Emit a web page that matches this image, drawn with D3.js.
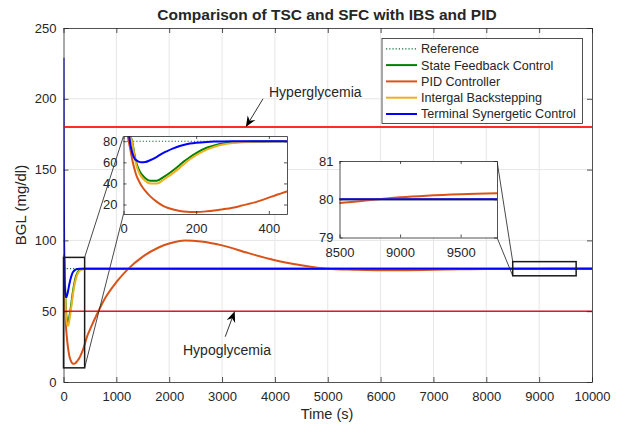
<!DOCTYPE html>
<html lang="en">
<head>
<meta charset="UTF-8">
<title>Comparison of TSC and SFC with IBS and PID</title>
<script src="https://cdn.jsdelivr.net/npm/d3@7"></script>
<style>
  body { margin: 0; background: #fff; font-family: "Liberation Sans", Arial, sans-serif; }
  svg text { fill: #262626; }
  .grid line { stroke: #e6e6e6; stroke-width: 1; }
</style>
</head>
<body>
<svg id="chart" width="624" height="428"></svg>
<script>
// ---- data ----
const time = [0, 4, 8, 12, 16, 20, 25, 30, 35, 40, 46, 50, 60, 73, 92, 110, 119, 137, 155, 165,
  183, 200, 229, 250, 274, 300, 320, 366, 412, 450, 500, 560, 660, 800, 1000, 1200, 1500, 1800, 2000, 2300,
  2600, 3000, 3500, 4000, 4500, 5000, 5500, 6000, 6500, 7000, 7500, 8000, 8500, 9000, 9500, 10000];

const tsc = [229, 170, 125, 98, 84, 75, 68, 64, 62, 61, 60.2, 60, 60.3, 62, 65.3, 69, 70.5, 73.2, 75.5, 76.5,
  77.8, 78.6, 79.4, 79.7, 79.85, 79.95, 80, 80, 80, 80, 80, 80, 80, 80, 80, 80, 80, 80, 80, 80,
  80, 80, 80, 80, 80, 80, 80, 80, 80, 80, 80, 80, 80, 80, 80, 80];

const sfc = [90, 89.8, 89.3, 88.5, 87, 84.5, 78, 68, 60, 55, 50.5, 48.5, 45, 42.6, 42.6, 46, 48, 52.5, 57.5, 60.5,
  65, 68.8, 73.8, 76, 77.8, 78.9, 79.4, 79.9, 80, 80, 80, 80, 80, 80, 80, 80, 80, 80, 80, 80,
  80, 80, 80, 80, 80, 80, 80, 80, 80, 80, 80, 80, 80, 80, 80, 80];

const pid = [90, 89.5, 88, 84, 77, 70, 61, 54, 48, 44, 40, 37.5, 33, 28, 22.5, 18.5, 17.2, 15.2, 13.8, 13.3,
  12.9, 12.9, 13.5, 14.3, 15.5, 17, 18.5, 22.5, 28, 32.5, 37, 42, 50, 60, 70.5, 79, 88.5, 95, 97.8, 100,
  99.3, 96.5, 91, 86, 82.5, 80, 79.3, 78.9, 79, 79.3, 79.6, 79.8, 79.9, 80.05, 80.13, 80.17];

const ibs = [90, 89.8, 89.3, 88.5, 87, 84, 77, 66, 58, 52.5, 48, 46, 42.5, 39.9, 39.9, 43.5, 45.6, 50, 55, 58,
  63, 66.8, 72, 74.8, 77, 78.3, 78.9, 79.6, 79.9, 80, 80, 80, 80, 80, 80, 80, 80, 80, 80, 80,
  80, 80, 80, 80, 80, 80, 80, 80, 80, 80, 80, 80, 80, 80, 80, 80];

const referenceLevel = 80;
const hyperLevel = 180;
const hypoLevel = 50;

const xTicks = [0, 1000, 2000, 3000, 4000, 5000, 6000, 7000, 8000, 9000, 10000];
const yTicks = [0, 50, 100, 150, 200, 250];

// zoomed windows (data coordinates)
const zoom1Domain = { x: [0, 450], y: [11, 85] };
const zoom1Box = { x: [0, 400], y: [10, 88] };
const zoom1XTicks = [0, 200, 400];
const zoom1YTicks = [20, 40, 60, 80];

const zoom2Domain = { x: [8500, 9800], y: [79, 81] };
const zoom2Box = { x: [8500, 9700], y: [75, 85] };
const zoom2XTicks = [8500, 9000, 9500];
const zoom2YTicks = [79, 80, 81];

const legendNames = ["Reference", "State Feedback Control", "PID Controller", "Intergal Backstepping", "Terminal Synergetic Control"];

// ---- styles ----
const colors = { ref: "#0d6b35", sfc: "#008000", pid: "#d95319", ibs: "#edb120", tsc: "#0000ff" };
const series = [
  { key: "sfc", values: sfc },
  { key: "pid", values: pid },
  { key: "ibs", values: ibs },
  { key: "tsc", values: tsc }
];

const svg = d3.select("#chart");
const axisColor = "#262626";
const plain = d => String(d);

const x = d3.scaleLinear().domain([0, 10000]).range([63.5, 592]);
const y = d3.scaleLinear().domain([0, 250]).range([382, 28]);

// grid
const grid = svg.append("g").attr("class", "grid");
grid.selectAll(".gx").data(xTicks.slice(1, -1)).join("line")
  .attr("x1", d => x(d)).attr("x2", d => x(d)).attr("y1", y(0)).attr("y2", y(250));
grid.selectAll(".gy").data(yTicks.slice(1, -1)).join("line")
  .attr("x1", x(0)).attr("x2", x(10000)).attr("y1", d => y(d)).attr("y2", d => y(d));

function drawAxes(g, xs, ys, xt, yt, tickLen, fontSize, xPad, yPad) {
  const [x0, x1] = xs.range();
  const [y0, y1] = ys.range();
  g.append("g").attr("transform", `translate(0,${y0})`)
    .call(d3.axisBottom(xs).tickValues(xt).tickFormat(plain).tickSizeInner(-tickLen).tickSizeOuter(0).tickPadding(xPad));
  g.append("g").attr("transform", `translate(0,${y1})`)
    .call(d3.axisTop(xs).tickValues(xt).tickSizeInner(-tickLen).tickSizeOuter(0).tickFormat(""));
  g.append("g").attr("transform", `translate(${x0},0)`)
    .call(d3.axisLeft(ys).tickValues(yt).tickFormat(plain).tickSizeInner(-tickLen).tickSizeOuter(0).tickPadding(yPad));
  g.append("g").attr("transform", `translate(${x1},0)`)
    .call(d3.axisRight(ys).tickValues(yt).tickSizeInner(-tickLen).tickSizeOuter(0).tickFormat(""));
  g.selectAll(".tick text").attr("font-size", fontSize).attr("font-family", "Liberation Sans, Arial, sans-serif");
  g.selectAll("g").style("color", axisColor);
  g.selectAll(".domain").attr("stroke-width", 0.8);
  g.selectAll(".tick line").attr("stroke-width", 0.8);
}

function drawCurves(g, xs, ys, clipId) {
  const [x0, x1] = xs.range();
  const [y0, y1] = ys.range();
  svg.append("defs").append("clipPath").attr("id", clipId)
    .append("rect").attr("x", x0).attr("y", y1).attr("width", x1 - x0).attr("height", y0 - y1);
  const c = g.append("g").attr("clip-path", `url(#${clipId})`);
  c.append("line")
    .attr("x1", xs(xs.domain()[0])).attr("x2", xs(xs.domain()[1]))
    .attr("y1", ys(referenceLevel)).attr("y2", ys(referenceLevel))
    .attr("stroke", colors.ref).attr("stroke-width", 1.2).attr("stroke-dasharray", "1.2,2");
  const line = d3.line().x((d, i) => xs(time[i])).y(d => ys(d)).curve(d3.curveMonotoneX);
  series.forEach(s => {
    c.append("path").datum(s.values)
      .attr("d", line)
      .attr("fill", "none")
      .attr("stroke", colors[s.key])
      .attr("stroke-width", 2);
  });
  return c;
}

// main curves
const main = svg.append("g");
const mainClip = drawCurves(main, x, y, "clipMain");

// hyper / hypo thresholds
mainClip.append("line").attr("x1", x(0)).attr("x2", x(10000))
  .attr("y1", y(hyperLevel)).attr("y2", y(hyperLevel))
  .attr("stroke", "#ff2a2a").attr("stroke-width", 2);
mainClip.append("line").attr("x1", x(0)).attr("x2", x(10000))
  .attr("y1", y(hypoLevel)).attr("y2", y(hypoLevel))
  .attr("stroke", "#e8141e").attr("stroke-width", 1.4);

drawAxes(main, x, y, xTicks, yTicks, 5, 13, 10, 7);

// zoom boxes on the main axes
function box(b) {
  return { x0: x(b.x[0]), x1: x(b.x[1]), y0: y(b.y[1]), y1: y(b.y[0]) };
}
const b1 = box(zoom1Box);
const b2 = box(zoom2Box);
[b1, b2].forEach(b => {
  svg.append("rect").attr("x", b.x0).attr("y", b.y0)
    .attr("width", b.x1 - b.x0).attr("height", b.y1 - b.y0)
    .attr("fill", "none").attr("stroke", "#1a1a1a").attr("stroke-width", 1.5);
});

// inset scales
const ix1 = d3.scaleLinear().domain(zoom1Domain.x).range([123.5, 287]);
const iy1 = d3.scaleLinear().domain(zoom1Domain.y).range([214, 136]);
const ix2 = d3.scaleLinear().domain(zoom2Domain.x).range([339.5, 497]);
const iy2 = d3.scaleLinear().domain(zoom2Domain.y).range([237.5, 161]);

// connector lines
const conn = svg.append("g").attr("stroke", "#1a1a1a").attr("stroke-width", 0.8);
conn.append("line").attr("x1", b1.x1).attr("y1", b1.y0).attr("x2", ix1.range()[0]).attr("y2", iy1.range()[1]);
conn.append("line").attr("x1", b1.x1).attr("y1", b1.y1).attr("x2", ix1.range()[0]).attr("y2", iy1.range()[0]);
conn.append("line").attr("x1", b2.x0).attr("y1", b2.y0).attr("x2", ix2.range()[1]).attr("y2", iy2.range()[1]);
conn.append("line").attr("x1", b2.x0).attr("y1", b2.y1).attr("x2", ix2.range()[1]).attr("y2", iy2.range()[0]);

function inset(xs, ys, xt, yt, clipId) {
  const g = svg.append("g");
  const [x0, x1] = xs.range();
  const [y0, y1] = ys.range();
  g.append("rect").attr("x", x0).attr("y", y1).attr("width", x1 - x0).attr("height", y0 - y1).attr("fill", "#fff");
  drawCurves(g, xs, ys, clipId);
  drawAxes(g, xs, ys, xt, yt, 3, 13, 10, 6);
}
inset(ix1, iy1, zoom1XTicks, zoom1YTicks, "clipInset1");
inset(ix2, iy2, zoom2XTicks, zoom2YTicks, "clipInset2");

// annotations
function arrow(x1, y1, x2, y2) {
  const dx = x2 - x1, dy = y2 - y1, len = Math.hypot(dx, dy);
  const ux = dx / len, uy = dy / len, nx = -uy, ny = ux;
  const L = 11, w = 4.5, notch = 3.5;
  svg.append("line").attr("x1", x1).attr("y1", y1)
    .attr("x2", x2 - ux * (L - notch)).attr("y2", y2 - uy * (L - notch))
    .attr("stroke", "#000").attr("stroke-width", 0.8);
  const pts = [[x2, y2], [x2 - ux * L + nx * w, y2 - uy * L + ny * w],
    [x2 - ux * (L - notch), y2 - uy * (L - notch)], [x2 - ux * L - nx * w, y2 - uy * L - ny * w]];
  svg.append("path").attr("d", "M" + pts.map(p => p.join(",")).join("L") + "Z").attr("fill", "#000");
}
arrow(x(3775), y(200), x(3450), y(hyperLevel));
arrow(x(3060), y(32), x(3240), y(hypoLevel));

svg.append("text").attr("x", 269).attr("y", 97).attr("font-size", 14).text("Hyperglycemia");
svg.append("text").attr("x", 183).attr("y", 355).attr("font-size", 14).text("Hypoglycemia");

// legend
const lg = svg.append("g");
lg.append("rect").attr("x", 382).attr("y", 38.5).attr("width", 200.5).attr("height", 85)
  .attr("fill", "#fff").attr("stroke", axisColor).attr("stroke-width", 0.8);
const legendKeys = ["ref", "sfc", "pid", "ibs", "tsc"];
legendNames.forEach((name, i) => {
  const yy = 48.8 + i * 16.3;
  lg.append("line").attr("x1", 386).attr("x2", 417).attr("y1", yy).attr("y2", yy)
    .attr("stroke", colors[legendKeys[i]])
    .attr("stroke-width", i === 0 ? 1.2 : 2)
    .attr("stroke-dasharray", i === 0 ? "1.2,2" : null);
  lg.append("text").attr("x", 421).attr("y", yy).attr("dy", "0.35em")
    .attr("font-size", 12.6).text(name);
});

// titles
svg.append("text").attr("x", 327).attr("y", 20).attr("text-anchor", "middle")
  .attr("font-size", 15.5).attr("font-weight", "bold")
  .text("Comparison of TSC and SFC with IBS and PID");
svg.append("text").attr("x", 327).attr("y", 419).attr("text-anchor", "middle")
  .attr("font-size", 14.5).text("Time (s)");
svg.append("text").attr("transform", "translate(26,205) rotate(-90)").attr("text-anchor", "middle")
  .attr("font-size", 15).text("BGL (mg/dl)");
</script>
</body>
</html>
